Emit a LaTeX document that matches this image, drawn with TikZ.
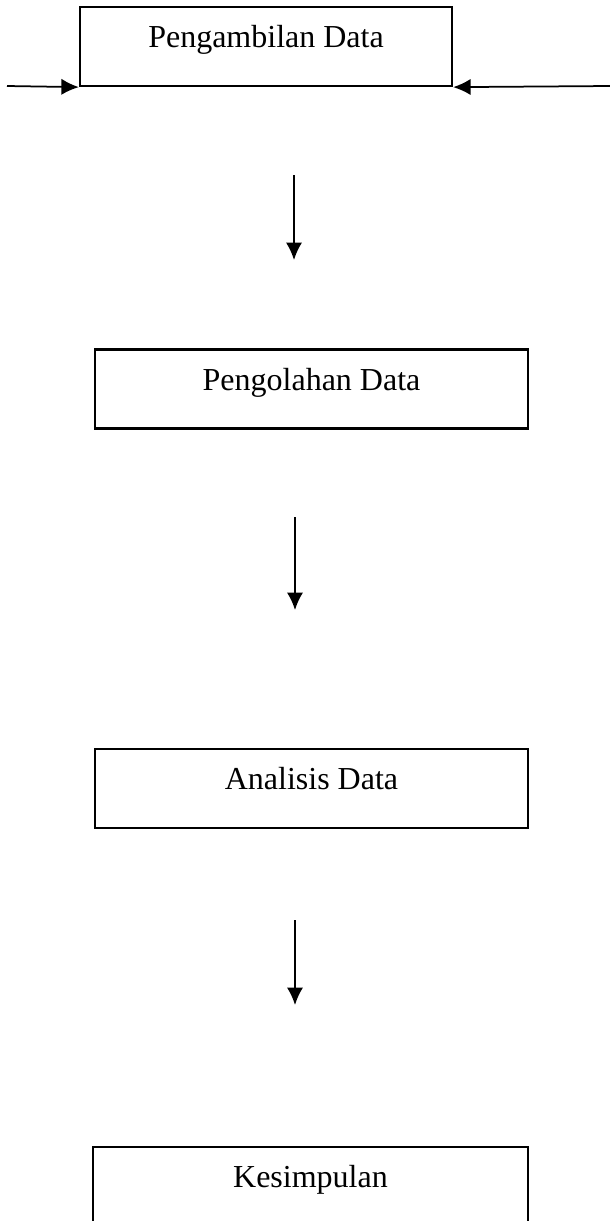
\documentclass[tikz,border=0pt]{standalone}
\usepackage{fontspec}
\setmainfont{Liberation Serif}
\usetikzlibrary{arrows.meta}

\begin{document}
\begin{tikzpicture}[x=0.4pt, y=-0.4pt,
  kotak/.style={draw=black, line width=0.9pt, minimum height=31.6pt, inner sep=0pt,
    text height=9.4pt, text depth=8.6pt, font=\fontsize{12.8}{15}\selectfont},
  alur/.style={draw=black, line width=0.7pt, -{Latex[length=7pt, width=6.5pt]}}]
\useasboundingbox (0,0) rectangle (610,1221);

% Kotak tahapan penelitian
\node[kotak, minimum width=148.8pt] (ambil) at (266, 46.5) {Pengambilan Data};
\node[kotak, minimum width=173.2pt] (olah) at (311.5, 389) {Pengolahan Data};
\node[kotak, minimum width=173.2pt] (analisis) at (311.5, 788.5) {Analisis Data};
\node[kotak, minimum width=174pt] (simpul) at (310.5, 1186.5) {Kesimpulan};

% Panah masuk dari kiri dan kanan
\coordinate (kiri) at (7, 86);
\coordinate (kanan) at (610, 86);
\draw[alur] (kiri) -- (ambil.south west);
\draw[alur] (kanan) -- (ambil.south east);

% Panah antar tahap
\coordinate (p1a) at (294, 175);
\coordinate (p1b) at (294, 260);
\coordinate (p2a) at (295, 517);
\coordinate (p2b) at (295, 610);
\coordinate (p3a) at (295, 920);
\coordinate (p3b) at (295, 1005);
\draw[alur] (p1a) -- (p1b);
\draw[alur] (p2a) -- (p2b);
\draw[alur] (p3a) -- (p3b);
\end{tikzpicture}
\end{document}
